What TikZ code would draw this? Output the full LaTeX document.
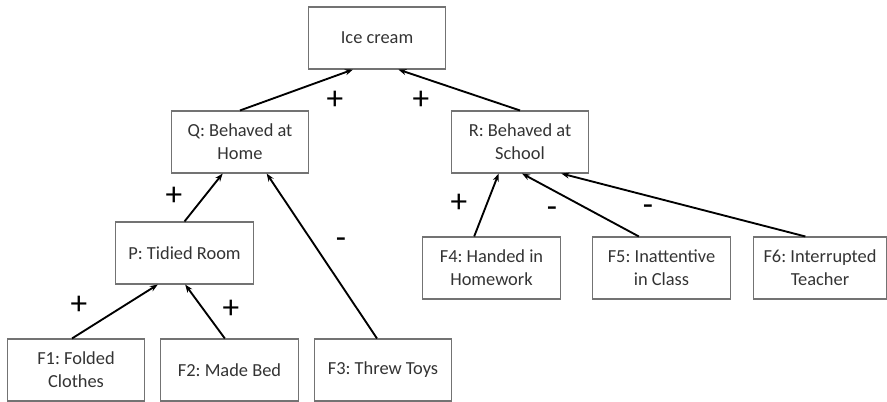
\documentclass[tikz,border=0pt]{standalone}
\usepackage{fontspec}
\setmainfont{Carlito}
\usetikzlibrary{arrows.meta}
\frenchspacing

\tikzset{
  factor/.style={draw=black!55, line width=0.8pt, minimum width=103pt, minimum height=46.5pt,
    inner sep=0pt, align=center, text=black!80, font=\fontsize{13.8}{17.3}\selectfont},
  link/.style={line width=1.4pt, -{Stealth[length=6pt,width=4.5pt]}},
  sign/.style={font=\fontsize{25}{28}\selectfont}
}

\begin{document}
\begin{tikzpicture}[x=0.75pt,y=-0.75pt]

    \useasboundingbox (0,0) rectangle (887,402);

    % goal
    \node[factor] (ice) at (377,38) {Ice cream};

    % middle level
    \node[factor] (q) at (240,142) {Q: Behaved at\\Home};
    \node[factor] (r) at (520,142) {R: Behaved at\\School};
    \node[factor] (p) at (184.5,253) {P: Tidied Room};

    % bottom level
    \node[factor] (f1) at (76,370) {F1: Folded\\Clothes};
    \node[factor] (f2) at (229.5,370) {F2: Made Bed};
    \node[factor] (f3) at (383,370) {F3: Threw Toys};
    \node[factor] (f4) at (491.5,268) {F4: Handed in\\Homework};
    \node[factor] (f5) at (661.5,268) {F5: Inattentive\\in Class};
    \node[factor, minimum width=100pt] (f6) at (820,268) {F6: Interrupted\\Teacher};

    % links
    \draw[link] (q.north) -- ([xshift=-18pt]ice.south);
    \draw[link] (r.north) -- ([xshift=16pt]ice.south);
    \draw[link] (p.north) -- ([xshift=-13pt]q.south);
    \draw[link] ([xshift=-3pt]f1.north) -- ([xshift=-20pt]p.south);
    \draw[link] ([xshift=-3.5pt]f2.north) -- ([xshift=0.5pt]p.south);
    \draw[link] ([xshift=-4.5pt]f3.north) -- ([xshift=20pt]q.south);
    \draw[link] ([xshift=-13pt]f4.north) -- ([xshift=-16pt]r.south);
    \draw[link] ([xshift=-17pt]f5.north) -- ([xshift=1.5pt]r.south);
    \draw[link] ([xshift=-11pt]f6.north) -- ([xshift=31pt]r.south);

    % signs
    \node[sign] (s1) at (335,100) {+};
    \node[sign] (s2) at (421,100) {+};
    \node[sign] (s3) at (174,196) {+};
    \node[sign] (s4) at (79,305) {+};
    \node[sign] (s5) at (231,309) {+};
    \node[sign] (s6) at (341,243) {-};
    \node[sign] (s7) at (459,203) {+};
    \node[sign] (s8) at (552,212) {-};
    \node[sign] (s9) at (648,210) {-};
\end{tikzpicture}
\end{document}
